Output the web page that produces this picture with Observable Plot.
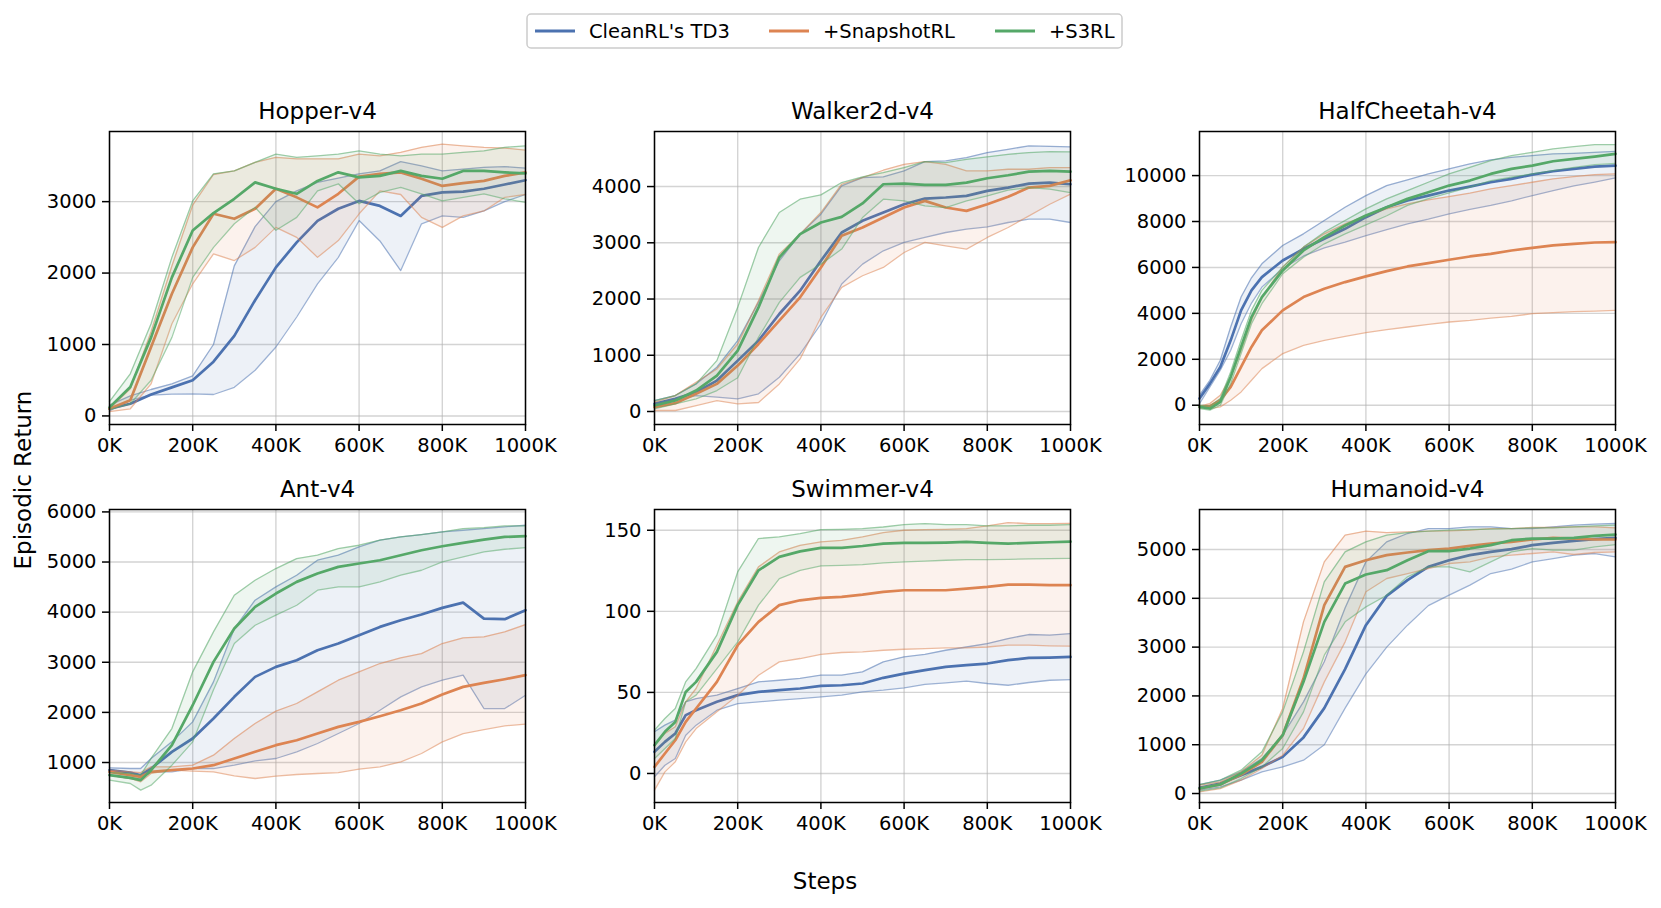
<!DOCTYPE html>
<html><head><meta charset="utf-8">
<script src="https://cdn.jsdelivr.net/npm/d3@7"></script>
<script src="https://cdn.jsdelivr.net/npm/@observablehq/plot@0.6"></script>
<style>
html,body{margin:0;padding:0;background:#fff;}
#fig{position:relative;width:1661px;height:908px;background:#fff;overflow:hidden;font-family:"DejaVu Sans",sans-serif;}
.panel{position:absolute;}
</style></head><body><div id="fig"></div>
<script>
// ---------- series ----------
const seriesNames = ["CleanRL's TD3", "+SnapshotRL", "+S3RL"];
const seriesColors = ["#4C72B0", "#DD8452", "#55A868"];
const xTicks = [0, 200, 400, 600, 800, 1000]; // thousands of steps

// ---------- Hopper-v4 ----------
const hopperSteps = [0,50,100,150,200,250,300,350,400,450,500,550,600,650,700,750,800,850,900,950,1000];
const hopperTD3Mean = [100,170,300,400,500,760,1120,1620,2080,2430,2730,2900,3010,2940,2800,3080,3130,3140,3180,3240,3300];
const hopperTD3Lo   = [70,220,290,305,310,300,400,640,965,1385,1850,2220,2735,2450,2035,2690,2800,2780,2870,3000,3100];
const hopperTD3Hi   = [150,280,370,450,560,1000,2100,2650,3000,3150,3270,3330,3390,3430,3560,3500,3430,3455,3480,3490,3470];
const hopperSnapMean = [100,220,965,1710,2360,2830,2760,2900,3180,3060,2920,3110,3350,3390,3410,3320,3220,3260,3290,3360,3410];
const hopperSnapLo   = [60,100,450,1290,1850,2270,2175,2360,2640,2500,2220,2455,2830,3150,3100,2780,2640,2800,2870,3060,3100];
const hopperSnapHi   = [100,380,1180,2100,2950,3380,3430,3550,3620,3600,3600,3600,3665,3640,3690,3760,3805,3780,3760,3750,3720];
const hopperS3Mean = [120,405,1100,1940,2595,2840,3040,3270,3180,3110,3290,3410,3340,3360,3430,3360,3320,3430,3430,3410,3395];
const hopperS3Lo   = [90,170,500,1100,1940,2360,2690,2920,2600,2780,3150,3250,2970,3130,3200,3110,3010,3060,3110,3040,2990];
const hopperS3Hi   = [200,590,1290,2220,3010,3390,3430,3550,3665,3620,3640,3665,3710,3665,3640,3665,3665,3690,3710,3760,3780];
const hopperYDomain = [-120, 3982];
const hopperYTicks = [0, 1000, 2000, 3000];

// ---------- Walker2d-v4 ----------
const walkerSteps = [0,50,100,150,200,250,300,350,400,450,500,550,600,650,700,750,800,850,900,950,1000];
const walkerTD3Mean = [136,225,343,550,905,1260,1734,2148,2680,3183,3390,3538,3686,3787,3805,3834,3923,3982,4053,4071,4041];
const walkerTD3Lo   = [77,195,284,254,225,314,609,1024,1556,2266,2621,2858,3006,3095,3183,3243,3284,3361,3420,3420,3361];
const walkerTD3Hi   = [195,284,491,787,1260,1941,2680,3154,3509,4012,4160,4172,4278,4444,4456,4515,4604,4663,4722,4716,4704];
const walkerSnapMean = [77,148,314,491,817,1201,1615,2030,2562,3124,3272,3450,3627,3746,3627,3568,3686,3817,3982,4012,4112];
const walkerSnapLo   = [18,18,106,195,136,160,490,935,1675,2207,2414,2562,2828,3006,2947,2888,3095,3272,3479,3686,3864];
const walkerSnapHi   = [166,284,521,757,1201,1970,2799,3154,3538,4041,4160,4290,4396,4444,4396,4278,4278,4308,4308,4337,4337];
const walkerS3Mean = [106,195,373,639,1083,1852,2740,3154,3360,3460,3700,4041,4053,4030,4030,4071,4148,4201,4266,4278,4266];
const walkerS3Lo   = [47,136,225,373,600,1320,1941,2385,2621,2888,3450,3775,3746,3657,3627,3746,3834,3935,3982,3953,3893];
const walkerS3Hi   = [195,284,491,905,1852,2917,3538,3775,3852,4071,4172,4249,4337,4444,4426,4485,4527,4574,4604,4621,4615];
const walkerYDomain = [-231, 4979];
const walkerYTicks = [0, 1000, 2000, 3000, 4000];

// ---------- HalfCheetah-v4 ----------
const cheetahSteps = [0,25,50,75,100,125,150,200,250,300,350,400,450,500,550,600,650,700,750,800,850,900,950,1000];
const cheetahTD3Mean = [290,940,1667,2826,4130,5000,5580,6300,6810,7246,7681,8188,8623,8913,9130,9348,9522,9710,9855,10043,10188,10290,10391,10435];
const cheetahTD3Lo   = [72,797,1522,2391,3551,4450,5145,5942,6500,6850,7100,7390,7650,7900,8100,8333,8530,8700,8900,9130,9350,9550,9720,9900];
const cheetahTD3Hi   = [435,1087,1957,3406,4710,5550,6159,6957,7464,8043,8623,9130,9565,9812,10072,10290,10507,10681,10797,10870,10942,10971,11014,11058];
const cheetahSnapMean = [-72,-43,217,797,1667,2536,3261,4130,4710,5072,5362,5609,5841,6043,6188,6333,6478,6594,6739,6855,6957,7029,7087,7101];
const cheetahSnapLo   = [-101,-145,-72,217,580,1087,1594,2246,2609,2826,3000,3159,3290,3406,3522,3623,3696,3797,3870,3986,4029,4072,4101,4130];
const cheetahSnapHi   = [-43,72,435,1232,2391,3696,4710,6014,6884,7464,7899,8261,8551,8768,8942,9087,9232,9420,9565,9710,9855,9957,10043,10072];
const cheetahS3Mean = [-72,-145,145,1232,2536,3841,4710,5870,6740,7319,7826,8261,8623,8986,9275,9565,9783,10072,10290,10435,10623,10725,10826,10942];
const cheetahS3Lo   = [-145,-217,0,942,2246,3551,4420,5725,6449,7029,7464,7850,8250,8700,9000,9250,9500,9783,9928,10072,10217,10362,10478,10536];
const cheetahS3Hi   = [0,-43,290,1449,2826,4130,5000,6014,6884,7536,8043,8551,8986,9348,9710,10072,10362,10652,10870,11014,11159,11261,11348,11348];
const cheetahYDomain = [-840, 11920];
const cheetahYTicks = [0, 2000, 4000, 6000, 8000, 10000];

// ---------- Ant-v4 ----------
const antSteps = [0,50,75,100,150,200,250,300,350,400,450,500,550,600,650,700,750,800,850,900,950,1000];
const antTD3Mean = [847,800,747,880,1213,1479,1878,2310,2709,2908,3041,3241,3374,3540,3706,3839,3952,4085,4191,3872,3859,4039];
const antTD3Lo   = [747,681,681,814,814,880,880,947,1033,1080,1213,1379,1578,1778,2044,2310,2509,2642,2742,2077,2077,2343];
const antTD3Hi   = [894,880,880,1080,1412,1811,2609,3673,4238,4504,4737,5036,5136,5302,5435,5501,5548,5601,5634,5668,5701,5734];
const antSnapMean = [814,747,714,814,847,880,947,1080,1213,1346,1445,1578,1711,1811,1924,2044,2177,2356,2509,2589,2662,2742];
const antSnapLo   = [747,681,614,781,847,827,814,734,681,727,761,781,800,867,914,1013,1180,1412,1578,1658,1731,1765];
const antSnapHi   = [847,814,800,914,914,947,1146,1479,1778,2024,2177,2410,2642,2809,2975,3088,3174,3374,3487,3507,3606,3753];
const antS3Mean = [747,694,648,847,1346,2143,3008,3673,4105,4371,4604,4770,4903,4970,5036,5136,5235,5315,5382,5448,5501,5515];
const antS3Lo   = [648,581,448,548,947,1412,2450,3374,3739,3939,4138,4438,4504,4504,4604,4737,4836,5003,5103,5202,5255,5289];
const antS3Hi   = [800,781,747,1080,1678,2809,3606,4338,4637,4870,5069,5136,5269,5335,5435,5501,5548,5601,5668,5688,5721,5721];
const antYDomain = [202, 6048];
const antYTicks = [1000, 2000, 3000, 4000, 5000, 6000];

// ---------- Swimmer-v4 ----------
const swimSteps = [0,25,50,75,100,150,200,250,300,350,400,450,500,550,600,650,700,750,800,850,900,950,1000];
const swimTD3Mean = [13.4,19.5,24.7,36,39,44.2,48.3,50.3,51.4,52.4,54,54.4,55.5,59,61.6,63.7,65.7,66.8,67.8,69.9,71.3,71.5,71.9];
const swimTD3Lo   = [-2,5.1,9.2,23.6,29.8,39,43.1,44.2,45.2,46.2,47.3,48.3,50.3,51.4,52.8,54.9,55.9,56.9,55.5,54.4,56.1,57.5,57.9];
const swimTD3Hi   = [25.7,29.8,32.9,44.2,46.2,48.3,52.4,56.5,57.5,58.6,60.6,60.6,62.7,68.8,71.9,73.4,76,78,80.1,83.2,85.7,85.3,86.3];
const swimSnapMean = [4.1,12.3,20.5,31.8,40.1,56.5,79.1,93.5,103.8,106.8,108.3,108.9,110.3,112,113,113,113,114,115.1,116.5,116.5,116.1,116.1];
const swimSnapLo   = [-10.3,1,7.2,19.5,27.7,38,48.3,60.6,68.8,70.9,73.4,74.6,75,76,76.6,77,77.5,77.5,78,79.1,79.1,78.7,78.5];
const swimSnapHi   = [17.5,24.7,28.8,44.2,52.4,79.1,105.8,127.4,136.6,140.7,142.8,143.8,145.9,148.6,150,150.4,150.6,151,152.7,154.7,154.1,154.1,154.3];
const swimS3Mean = [17.5,25.7,31.8,50.3,56.5,75,103.8,125.3,133.6,137,139.1,139.1,140.3,141.8,142.2,142.2,142.4,142.8,142.2,141.8,142.2,142.6,143];
const swimS3Lo   = [9.2,15.4,21.6,44.2,48.3,64.7,81.2,103.8,120.2,125.3,128,128.4,128.8,129.9,130.5,130.9,131.5,131.9,131.9,132.1,132.3,132.5,132.7];
const swimS3Hi   = [26.7,33.9,40.1,56.5,64.7,85.3,124.3,144.9,145.9,147.9,150.4,150.6,151,152,153.5,154.1,153.5,153.5,152.7,152.7,153.1,153.1,153.5];
const swimYDomain = [-17.9, 162.8];
const swimYTicks = [0, 50, 100, 150];

// ---------- Humanoid-v4 ----------
const humSteps = [0,50,100,150,200,250,300,350,400,450,500,550,600,650,700,750,800,850,900,950,1000];
const humTD3Mean = [116,205,376,546,751,1150,1750,2550,3450,4050,4372,4645,4781,4884,4952,5007,5089,5137,5178,5212,5239];
const humTD3Lo   = [68,137,273,444,546,683,1000,1750,2450,3000,3450,3850,4064,4269,4508,4597,4747,4815,4884,4918,4850];
const humTD3Hi   = [184,273,444,717,1195,1878,2700,3800,4747,5157,5328,5430,5430,5464,5464,5430,5430,5464,5498,5519,5533];
const humSnapMean = [102,184,389,649,1195,2357,3859,4645,4781,4884,4939,4986,5020,5075,5123,5157,5205,5239,5225,5205,5205];
const humSnapLo   = [34,102,273,512,785,1332,2288,3108,4133,4406,4508,4611,4713,4747,4850,4884,4918,4952,4898,4939,4952];
const humSnapHi   = [171,239,444,786,1742,3518,4747,5294,5376,5348,5362,5376,5383,5396,5430,5430,5451,5451,5464,5464,5444];
const humS3Mean = [102,184,410,683,1195,2288,3518,4303,4488,4577,4781,4966,4966,5020,5089,5191,5225,5225,5239,5280,5307];
const humS3Lo   = [48,116,307,546,922,1673,2835,3518,3825,4064,4440,4645,4645,4542,4747,4952,5020,4986,4986,5055,5102];
const humS3Hi   = [184,273,478,854,1673,2903,4337,4952,5157,5294,5348,5376,5396,5410,5417,5430,5444,5444,5464,5485,5498];
const humYDomain = [-184, 5820];
const humYTicks = [0, 1000, 2000, 3000, 4000, 5000];

// ---------- panel definitions ----------
const panels = [
  {title: "Hopper-v4", steps: hopperSteps, yDomain: hopperYDomain, yTicks: hopperYTicks, col: 0, row: 0,
   series: [[hopperTD3Mean, hopperTD3Lo, hopperTD3Hi], [hopperSnapMean, hopperSnapLo, hopperSnapHi], [hopperS3Mean, hopperS3Lo, hopperS3Hi]]},
  {title: "Walker2d-v4", steps: walkerSteps, yDomain: walkerYDomain, yTicks: walkerYTicks, col: 1, row: 0,
   series: [[walkerTD3Mean, walkerTD3Lo, walkerTD3Hi], [walkerSnapMean, walkerSnapLo, walkerSnapHi], [walkerS3Mean, walkerS3Lo, walkerS3Hi]]},
  {title: "HalfCheetah-v4", steps: cheetahSteps, yDomain: cheetahYDomain, yTicks: cheetahYTicks, col: 2, row: 0,
   series: [[cheetahTD3Mean, cheetahTD3Lo, cheetahTD3Hi], [cheetahSnapMean, cheetahSnapLo, cheetahSnapHi], [cheetahS3Mean, cheetahS3Lo, cheetahS3Hi]]},
  {title: "Ant-v4", steps: antSteps, yDomain: antYDomain, yTicks: antYTicks, col: 0, row: 1,
   series: [[antTD3Mean, antTD3Lo, antTD3Hi], [antSnapMean, antSnapLo, antSnapHi], [antS3Mean, antS3Lo, antS3Hi]]},
  {title: "Swimmer-v4", steps: swimSteps, yDomain: swimYDomain, yTicks: swimYTicks, col: 1, row: 1,
   series: [[swimTD3Mean, swimTD3Lo, swimTD3Hi], [swimSnapMean, swimSnapLo, swimSnapHi], [swimS3Mean, swimS3Lo, swimS3Hi]]},
  {title: "Humanoid-v4", steps: humSteps, yDomain: humYDomain, yTicks: humYTicks, col: 2, row: 1,
   series: [[humTD3Mean, humTD3Lo, humTD3Hi], [humSnapMean, humSnapLo, humSnapHi], [humS3Mean, humS3Lo, humS3Hi]]}
];

// ---------- layout ----------
const fig = document.getElementById("fig");
const frameW = 416, frameH = 293;
const colLeft = [109, 654, 1199];
const rowTop = [131, 509];
const mL = 100, mR = 40, mT = 40, mB = 50;
const FONT = "DejaVu Sans";

panels.forEach(p => {
  const marks = [
    Plot.gridX(xTicks, {stroke: "#b0b0b0", strokeOpacity: 0.55, strokeWidth: 1.4}),
    Plot.gridY(p.yTicks, {stroke: "#b0b0b0", strokeOpacity: 0.55, strokeWidth: 1.4})
  ];
  seriesNames.forEach((name, si) => {
    const [m, lo, hi] = p.series[si];
    const d = p.steps.map((s, i) => ({series: name, step: s, mean: m[i], lo: lo[i], hi: hi[i]}));
    const c = seriesColors[si];
    marks.push(Plot.areaY(d, {x: "step", y1: "lo", y2: "hi", fill: c, fillOpacity: 0.1}));
    marks.push(Plot.lineY(d, {x: "step", y: "lo", stroke: c, strokeOpacity: 0.55, strokeWidth: 1.3}));
    marks.push(Plot.lineY(d, {x: "step", y: "hi", stroke: c, strokeOpacity: 0.55, strokeWidth: 1.3}));
    marks.push(Plot.lineY(d, {x: "step", y: "mean", stroke: c, strokeWidth: 2.7}));
  });
  marks.push(Plot.frame({stroke: "black", strokeWidth: 1.5}));
  marks.push(Plot.axisX({ticks: xTicks, tickFormat: d => `${d}K`, tickSize: 7, tickPadding: 7, strokeWidth: 1.5, label: null}));
  marks.push(Plot.axisY({ticks: p.yTicks, tickFormat: d => String(d), tickSize: 7, tickPadding: 6, strokeWidth: 1.5, label: null}));
  marks.push(Plot.text([p.title], {frameAnchor: "top", dy: -13, lineAnchor: "bottom", fontSize: 23, fill: "black"}));

  const chart = Plot.plot({
    width: frameW + mL + mR,
    height: frameH + mT + mB,
    marginLeft: mL, marginRight: mR, marginTop: mT, marginBottom: mB,
    x: {domain: [0, 1000]},
    y: {domain: p.yDomain},
    style: {fontFamily: FONT, fontSize: "19.5px", color: "black", background: "transparent", overflow: "visible", maxWidth: "none"},
    marks
  });
  chart.classList.add("panel");
  chart.style.left = (colLeft[p.col] - mL) + "px";
  chart.style.top = (rowTop[p.row] - mT) + "px";
  fig.appendChild(chart);
});

// ---------- legend and shared labels ----------
const svg = d3.create("svg").attr("width", 1661).attr("height", 908)
  .style("position", "absolute").style("left", 0).style("top", 0).style("pointer-events", "none")
  .style("font-family", FONT);
svg.append("rect").attr("x", 527).attr("y", 14).attr("width", 595).attr("height", 34).attr("rx", 4)
  .attr("fill", "white").attr("stroke", "#cccccc").attr("stroke-width", 1.5);
const legendX = [535, 769, 995];
seriesNames.forEach((name, i) => {
  svg.append("line").attr("x1", legendX[i]).attr("x2", legendX[i] + 40).attr("y1", 31).attr("y2", 31)
    .attr("stroke", seriesColors[i]).attr("stroke-width", 2.8);
  svg.append("text").attr("x", legendX[i] + 54).attr("y", 38).attr("font-size", 19.5).attr("fill", "black").text(name);
});
svg.append("text").attr("x", 825).attr("y", 889).attr("text-anchor", "middle").attr("font-size", 23).attr("fill", "black").text("Steps");
svg.append("text").attr("transform", "translate(31,480) rotate(-90)").attr("text-anchor", "middle")
  .attr("font-size", 23).attr("fill", "black").text("Episodic Return");
fig.appendChild(svg.node());
</script>
</body></html>
